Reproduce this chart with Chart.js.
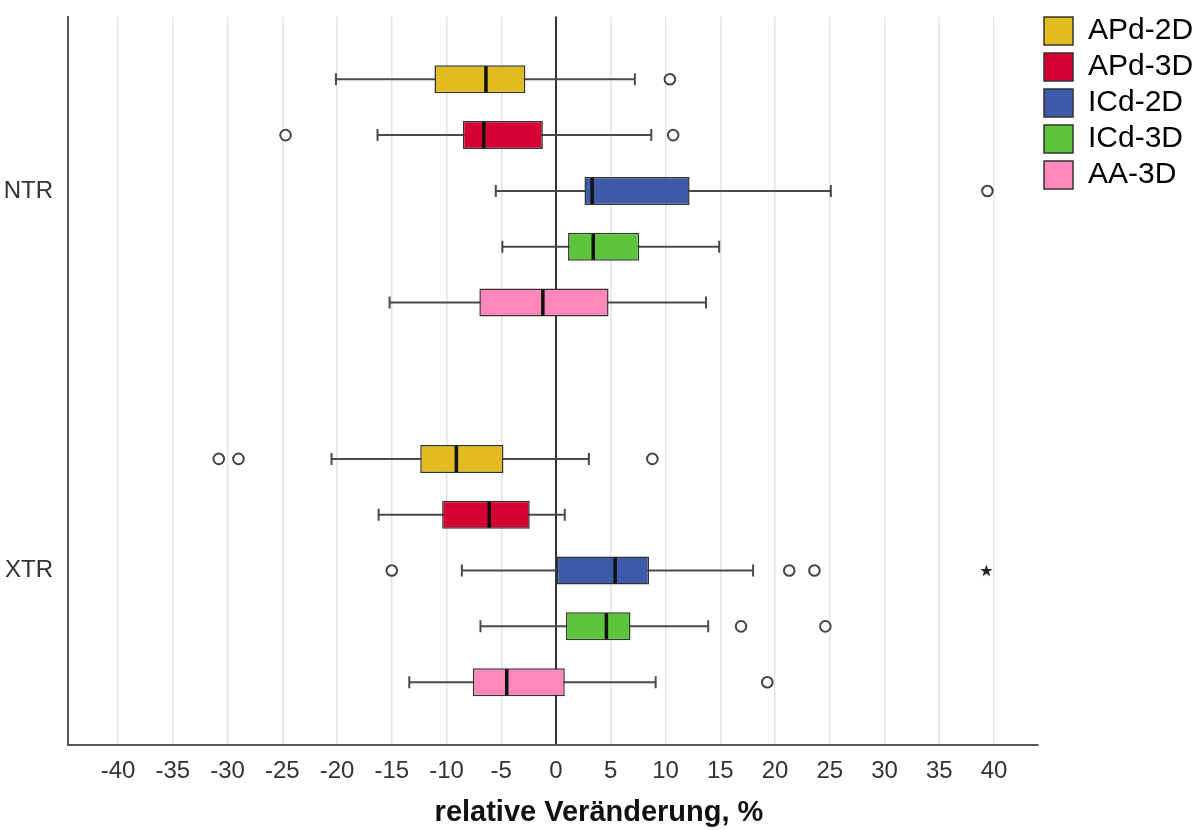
<!DOCTYPE html>
<html>
<head>
<meta charset="utf-8">
<title>relative Veränderung</title>
<script src="https://cdn.jsdelivr.net/npm/chart.js@4.4.1/dist/chart.umd.min.js"></script>
<style>
  html, body { margin: 0; padding: 0; background: #fff; }
  canvas { display: block; }
</style>
</head>
<body>
<canvas id="myChart" width="1198" height="830"></canvas>
<script>
const groups = ['NTR', 'XTR'];
const seriesNames = ['APd-2D', 'APd-3D', 'ICd-2D', 'ICd-3D', 'AA-3D'];

// one row per series, [NTR, XTR]
const whiskerLow  = [[-20.1, -20.5], [-16.3, -16.2], [-5.5, -8.6], [-4.9, -6.9], [-15.2, -13.4]];
const quartile1   = [[-11.1, -12.4], [-8.5, -10.4], [2.6, 0.0], [1.1, 0.9], [-7.0, -7.6]];
const medians     = [[-6.4, -9.1], [-6.6, -6.1], [3.3, 5.4], [3.4, 4.6], [-1.2, -4.5]];
const quartile3   = [[-2.8, -4.8], [-1.2, -2.4], [12.2, 8.5], [7.6, 6.8], [4.8, 0.8]];
const whiskerHigh = [[7.2, 3.0], [8.7, 0.8], [25.1, 18.0], [14.9, 13.9], [13.7, 9.1]];
const outliers = [
  [[10.4], [-30.8, -29.0, 8.8]],
  [[-24.7, 10.7], []],
  [[39.4], [-15.0, 21.3, 23.6]],
  [[], [16.9, 24.6]],
  [[], [19.3]]
];
const extremes = [[[], []], [[], []], [[], [39.3]], [[], []], [[], []]];
const xTickStep = 5;

const colors = ['#E2BC1F', '#D50032', '#3E5BA9', '#5DC53B', '#FF88BB'];

// vertical layout in row units (one row per box)
const firstRow = 1.125;
const groupSpan = 6.8;
const yMax = 13.054;
const xMin = -44.57;
const xMax = 44.02;
const rowPos = (g, s) => firstRow + g * groupSpan + s;
const groupCenters = groups.map((_, g) => rowPos(g, 2));

function makeStar(size, color) {
  const c = document.createElement('canvas');
  c.width = size;
  c.height = size;
  const g = c.getContext('2d');
  g.fillStyle = color;
  g.beginPath();
  for (let i = 0; i < 10; i++) {
    const r = i % 2 === 0 ? size / 2 : size / 5;
    const a = -Math.PI / 2 + i * Math.PI / 5;
    g.lineTo(size / 2 + r * Math.cos(a), size / 2 + r * Math.sin(a) + 0.5);
  }
  g.closePath();
  g.fill();
  return c;
}

const datasets = [];

seriesNames.forEach((name, s) => {
  datasets.push({
    type: 'bar',
    label: name,
    data: groups.map((_, g) => ({ y: rowPos(g, s), x: [quartile1[s][g], quartile3[s][g]] })),
    backgroundColor: colors[s],
    borderColor: '#333',
    borderWidth: 1.5,
    borderSkipped: false,
    grouped: false,
    maxBarThickness: 28,
    xAxisID: 'x',
    yAxisID: 'y',
    order: 3
  });
});

const whiskerData = [];
const capData = [];
const medianData = [];
const outlierData = [];
const extremeData = [];
seriesNames.forEach((_, s) => {
  groups.forEach((_, g) => {
    const y = rowPos(g, s);
    whiskerData.push({ y, x: [whiskerLow[s][g], whiskerHigh[s][g]] });
    capData.push({ x: whiskerLow[s][g], y }, { x: whiskerHigh[s][g], y });
    medianData.push({ x: medians[s][g], y });
    outliers[s][g].forEach(v => outlierData.push({ x: v, y }));
    extremes[s][g].forEach(v => extremeData.push({ x: v, y }));
  });
});

datasets.push({
  type: 'bar',
  label: 'whiskers',
  data: whiskerData,
  backgroundColor: '#4a4a4a',
  borderWidth: 0,
  grouped: false,
  maxBarThickness: 2,
  xAxisID: 'x',
  yAxisID: 'y',
  order: 5
});

datasets.push({
  type: 'scatter',
  label: 'caps',
  data: capData,
  pointStyle: 'line',
  pointRotation: 90,
  pointRadius: 6,
  pointHoverRadius: 6,
  borderColor: '#4a4a4a',
  pointBorderColor: '#4a4a4a',
  pointBorderWidth: 2,
  borderWidth: 2,
  xAxisID: 'x',
  yAxisID: 'y',
  order: 4
});

datasets.push({
  type: 'scatter',
  label: 'medians',
  data: medianData,
  pointStyle: 'line',
  pointRotation: 90,
  pointRadius: 13,
  pointHoverRadius: 13,
  borderColor: '#111',
  pointBorderColor: '#111',
  pointBorderWidth: 3.5,
  borderWidth: 3.5,
  xAxisID: 'x',
  yAxisID: 'y',
  order: 1
});

datasets.push({
  type: 'scatter',
  label: 'outliers',
  data: outlierData,
  pointStyle: 'circle',
  pointRadius: 5.3,
  pointHoverRadius: 5.3,
  backgroundColor: '#fff',
  pointBackgroundColor: '#fff',
  borderColor: '#444',
  pointBorderColor: '#444',
  pointBorderWidth: 2,
  borderWidth: 2,
  xAxisID: 'x',
  yAxisID: 'y',
  order: 2
});

datasets.push({
  type: 'scatter',
  label: 'extremes',
  data: extremeData,
  pointStyle: makeStar(13, '#222'),
  pointRadius: 6,
  xAxisID: 'x',
  yAxisID: 'y',
  order: 2
});

Chart.defaults.font.family = "'Liberation Sans', Arial, sans-serif";
Chart.defaults.color = '#333';

const ctx = document.getElementById('myChart').getContext('2d');

new Chart(ctx, {
  type: 'bar',
  data: { datasets },
  options: {
    indexAxis: 'y',
    responsive: false,
    animation: false,
    events: [],
    layout: { padding: { top: 10, right: 0, bottom: 0, left: 0 } },
    scales: {
      x: {
        type: 'linear',
        position: 'bottom',
        min: xMin,
        max: xMax,
        offset: false,
        grid: { color: '#e3e3e3', lineWidth: 1.5, drawTicks: false, offset: false },
        border: { display: true, color: '#555', width: 2 },
        ticks: { stepSize: xTickStep, includeBounds: false, padding: 12, color: '#333', font: { size: 24 } },
        afterFit: scale => { scale.height = 35; }
      },
      y: {
        type: 'linear',
        min: 0,
        max: yMax,
        reverse: true,
        offset: false,
        grid: { display: false, offset: false },
        border: { display: true, color: '#555', width: 2 },
        ticks: { padding: 7, color: '#333', font: { size: 24 }, callback: (v, i) => groups[i] },
        afterBuildTicks: scale => { scale.ticks = groupCenters.map(v => ({ value: v })); },
        afterFit: scale => { scale.width = 68; scale.paddingTop = 14; scale.paddingBottom = 0; }
      },
      zero: {
        type: 'linear',
        axis: 'x',
        position: 'bottom',
        min: xMin,
        max: xMax,
        z: 1,
        grid: { color: '#333', lineWidth: 2, drawTicks: false },
        border: { display: false },
        ticks: { display: false },
        afterBuildTicks: scale => { scale.ticks = [{ value: 0 }]; },
        afterFit: scale => { scale.height = 0; }
      }
    },
    plugins: {
      legend: {
        position: 'right',
        align: 'start',
        maxWidth: 160,
        onClick: null,
        labels: {
          boxWidth: 29,
          boxHeight: 28,
          padding: 6,
          color: '#222',
          font: { size: 30 },
          generateLabels: () => seriesNames.map((name, i) => ({
            text: name,
            fillStyle: colors[i],
            strokeStyle: '#333',
            lineWidth: 1.5,
            hidden: false,
            datasetIndex: i
          }))
        }
      },
      title: {
        display: true,
        position: 'bottom',
        text: 'relative Veränderung, %',
        color: '#111',
        font: { size: 29, weight: 'bold' },
        padding: { top: 15, bottom: 0 }
      },
      tooltip: { enabled: false }
    }
  }
});
</script>
</body>
</html>
